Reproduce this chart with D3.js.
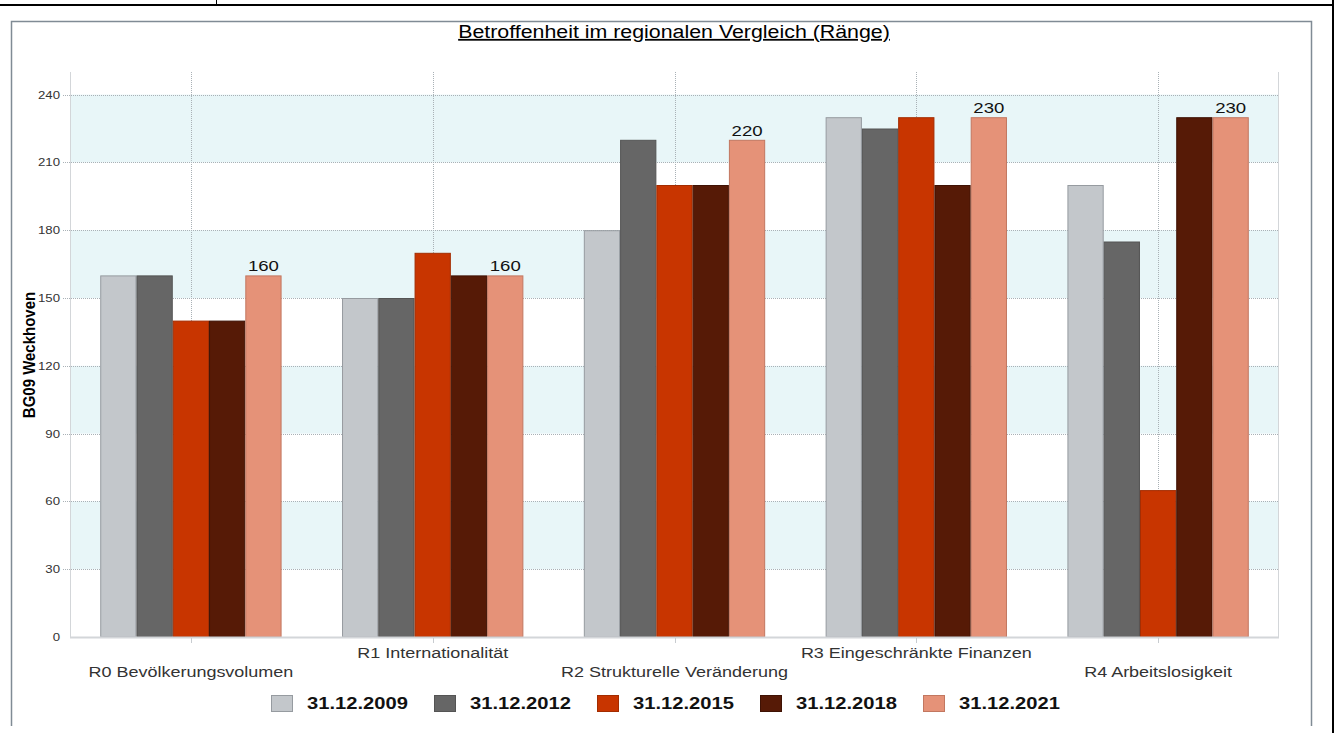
<!DOCTYPE html>
<html>
<head>
<meta charset="utf-8">
<script src="https://cdn.jsdelivr.net/npm/d3@7"></script>
<style>
  html, body { margin: 0; padding: 0; background: #fff; }
  svg { display: block; }
  text { font-family: "Liberation Sans", Arial, sans-serif; }
</style>
</head>
<body>
<svg id="chart" width="1338" height="733"></svg>
<script>
// ---- data ----
const categories = ["R0 Bevölkerungsvolumen", "R1 Internationalität", "R2 Strukturelle Veränderung", "R3 Eingeschränkte Finanzen", "R4 Arbeitslosigkeit"];
const seriesNames = ["31.12.2009", "31.12.2012", "31.12.2015", "31.12.2018", "31.12.2021"];
const s2009 = [160, 150, 180, 230, 200];
const s2012 = [160, 150, 220, 225, 175];
const s2015 = [140, 170, 200, 230, 65];
const s2018 = [140, 160, 200, 200, 230];
const s2021 = [160, 160, 220, 230, 230];
const yTicks = [0, 30, 60, 90, 120, 150, 180, 210, 240];
const title = "Betroffenheit im regionalen Vergleich (Ränge)";
const yTitle = "BG09 Weckhoven";

const seriesValues = [s2009, s2012, s2015, s2018, s2021];
const fills = ["#c3c7cb", "#666666", "#c83500", "#561a06", "#e59278"];
const strokes = ["#969ba0", "#545454", "#a32c00", "#3f1204", "#c27760"];

const SX = 1.2; // horizontal text stretch seen in reference

const svg = d3.select("#chart");

// outer frame lines
svg.append("line").attr("x1", 0).attr("x2", 1334).attr("y1", 5).attr("y2", 5)
  .attr("stroke", "#000").attr("stroke-width", 2);
svg.append("line").attr("x1", 1333).attr("x2", 1333).attr("y1", 0).attr("y2", 733)
  .attr("stroke", "#000").attr("stroke-width", 2);
svg.append("line").attr("x1", 216.5).attr("x2", 216.5).attr("y1", 0).attr("y2", 5)
  .attr("stroke", "#000").attr("stroke-width", 1);

// chart border
svg.append("path").attr("d", "M11.5,726 V21.5 H1311.5 V726")
  .attr("fill", "none").attr("stroke", "#808b95").attr("stroke-width", 1.5);

const pLeft = 70, pRight = 1279, pTop = 72, pBottom = 637;

const y = d3.scaleLinear().domain([0, 250]).range([pBottom, pTop]);
const x = d3.scaleBand().domain(categories).range([pLeft, pRight]).paddingInner(0.25).paddingOuter(0.125);
const xs = d3.scaleBand().domain(seriesNames).range([0, x.bandwidth()]);

function stretchedText(sel, xx, yy) {
  return sel.attr("transform", `translate(${xx},${yy}) scale(${SX},1)`);
}

// bands
const bands = [[30, 60], [90, 120], [150, 180], [210, 240]];
svg.append("g").selectAll("rect").data(bands).join("rect")
  .attr("x", pLeft).attr("width", pRight - pLeft)
  .attr("y", d => y(d[1])).attr("height", d => y(d[0]) - y(d[1]))
  .attr("fill", "#e8f6f8");

// horizontal grid lines (dotted)
svg.append("g").selectAll("line").data(yTicks.filter(t => t > 0)).join("line")
  .attr("x1", pLeft - 7).attr("x2", pRight)
  .attr("y1", d => Math.round(y(d)) + 0.5).attr("y2", d => Math.round(y(d)) + 0.5)
  .attr("stroke", "#a9b1b6").attr("stroke-width", 1).attr("stroke-dasharray", "1,1");

// vertical grid lines at category centers
svg.append("g").selectAll("line").data(categories).join("line")
  .attr("x1", d => Math.round(x(d) + x.bandwidth() / 2) + 0.5)
  .attr("x2", d => Math.round(x(d) + x.bandwidth() / 2) + 0.5)
  .attr("y1", pTop).attr("y2", pBottom)
  .attr("stroke", "#a9b1b6").attr("stroke-width", 1).attr("stroke-dasharray", "1,1");

// axis lines
svg.append("line").attr("x1", pLeft + 0.5).attr("x2", pLeft + 0.5).attr("y1", pTop).attr("y2", pBottom)
  .attr("stroke", "#d3d6d9").attr("stroke-width", 1);
svg.append("line").attr("x1", pRight - 0.5).attr("x2", pRight - 0.5).attr("y1", pTop).attr("y2", pBottom)
  .attr("stroke", "#d3d6d9").attr("stroke-width", 1);

// y tick labels
svg.append("g").selectAll("text").data(yTicks).join("text")
  .each(function(d) { stretchedText(d3.select(this), 60, y(d) + 4); })
  .attr("text-anchor", "end").attr("font-size", 11).attr("fill", "#333")
  .text(d => d);

// bars
const groups = svg.append("g").selectAll("g").data(categories).join("g")
  .attr("transform", d => `translate(${x(d)},0)`);
groups.selectAll("rect").data((c, ci) => seriesNames.map((s, si) => ({ s, si, v: seriesValues[si][ci] })))
  .join("rect")
  .attr("x", d => xs(d.s) + 0.5).attr("width", xs.bandwidth() - 1)
  .attr("y", d => y(d.v) + 0.5).attr("height", d => y(0) - y(d.v) - 0.5)
  .attr("fill", d => fills[d.si]).attr("stroke", d => strokes[d.si]).attr("stroke-width", 1);

// bottom axis line and ticks
svg.append("line").attr("x1", pLeft).attr("x2", pRight).attr("y1", pBottom + 0.5).attr("y2", pBottom + 0.5)
  .attr("stroke", "#d3d6d9").attr("stroke-width", 2);
svg.append("g").selectAll("line").data(categories).join("line")
  .attr("x1", d => Math.round(x(d) + x.bandwidth() / 2) + 0.5)
  .attr("x2", d => Math.round(x(d) + x.bandwidth() / 2) + 0.5)
  .attr("y1", pBottom + 1).attr("y2", pBottom + 6)
  .attr("stroke", "#c8ccd0").attr("stroke-width", 1);

// value labels on last series
const lastName = seriesNames[seriesNames.length - 1];
svg.append("g").selectAll("text").data(categories).join("text")
  .each(function(d, i) {
    stretchedText(d3.select(this), x(d) + xs(lastName) + xs.bandwidth() / 2, y(s2021[i]) - 4);
  })
  .attr("text-anchor", "middle").attr("font-size", 15.5).attr("fill", "#111")
  .text((d, i) => s2021[i]);

// category labels (staggered)
svg.append("g").selectAll("text").data(categories).join("text")
  .each(function(d, i) {
    stretchedText(d3.select(this), x(d) + x.bandwidth() / 2, i % 2 === 0 ? 677 : 658);
  })
  .attr("text-anchor", "middle").attr("font-size", 15).attr("fill", "#333")
  .text(d => d);

// title
svg.append("text")
  .attr("transform", `translate(674,38) scale(${SX},1)`)
  .attr("text-anchor", "middle").attr("font-size", 17.8).attr("fill", "#000")
  .attr("text-decoration", "underline")
  .text(title);

// y axis title
svg.append("text")
  .attr("transform", `translate(35,355) scale(1.05,1) rotate(-90)`)
  .attr("text-anchor", "middle").attr("font-size", 15).attr("font-weight", "bold").attr("fill", "#000")
  .text(yTitle);

// legend
const legendX0 = 271, legendStep = 163;
const leg = svg.append("g").selectAll("g").data(seriesNames).join("g")
  .attr("transform", (d, i) => `translate(${legendX0 + i * legendStep},695)`);
leg.append("rect").attr("x", 0.5).attr("y", 0.5).attr("width", 21).attr("height", 16)
  .attr("fill", (d, i) => fills[i]).attr("stroke", (d, i) => strokes[i]);
leg.append("text")
  .attr("transform", `translate(36,14) scale(${SX},1)`)
  .attr("font-size", 16.8).attr("font-weight", "bold").attr("fill", "#111")
  .text(d => d);
</script>
</body>
</html>
